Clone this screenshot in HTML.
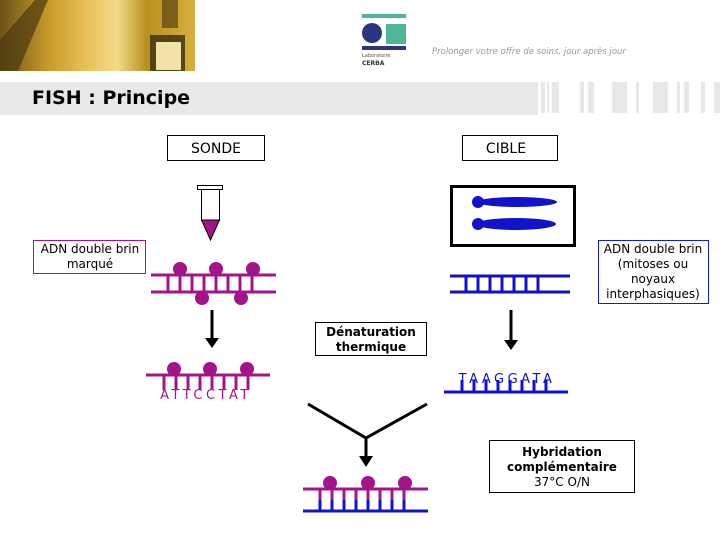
<!DOCTYPE html>
<html><head><meta charset="utf-8"><style>
body{margin:0;background:#fff;}
svg{display:block;}
text{font-family:"DejaVu Sans","Liberation Sans",sans-serif;}
</style></head><body>
<svg width="720" height="540" viewBox="0 0 720 540" xmlns="http://www.w3.org/2000/svg">
<defs>
<linearGradient id="g1" x1="0" y1="0" x2="1" y2="0">
<stop offset="0" stop-color="#6b5216"/><stop offset="0.25" stop-color="#c89a2a"/>
<stop offset="0.45" stop-color="#e8c25a"/><stop offset="0.6" stop-color="#f3dc8a"/>
<stop offset="0.75" stop-color="#b8901e"/><stop offset="1" stop-color="#d9b040"/>
</linearGradient>
</defs>
<rect x="0" y="0" width="195" height="71" fill="url(#g1)"/>
<polygon points="0,71 0,40 35,0 48,0 18,71" fill="#4a3a10" opacity="0.7"/>
<rect x="150" y="35" width="35" height="36" fill="#3a2e0c" opacity="0.8"/>
<rect x="156" y="42" width="25" height="28" fill="#f1e2a8"/>
<rect x="162" y="0" width="16" height="28" fill="#5a4512" opacity="0.7"/>
<rect x="362" y="14" width="44" height="4" fill="#4fb59a"/>
<circle cx="372" cy="33" r="10" fill="#2b3580"/>
<rect x="386" y="24" width="20" height="20" fill="#4fb59a"/>
<rect x="362" y="46" width="44" height="4" fill="#2b3580"/>
<text x="362" y="57" font-size="5" fill="#555">Laboratoire</text>
<text x="362" y="65" font-size="6" font-weight="bold" fill="#333">CERBA</text>
<text x="432" y="54" font-size="8.5" font-style="italic" fill="#999" font-family="Liberation Serif">Prolonger votre offre de soins, jour après jour</text>
<rect x="0" y="82" width="538" height="33" fill="#e8e8e8"/>
<g fill="#e8e8e8">
<rect x="541" y="82" width="4" height="31"/><rect x="547" y="82" width="2" height="31"/><rect x="552" y="82" width="7" height="31"/>
<rect x="580" y="82" width="4" height="31"/><rect x="588" y="82" width="6" height="31"/>
<rect x="612" y="82" width="15" height="31"/><rect x="636" y="82" width="3" height="31"/>
<rect x="653" y="82" width="15" height="31"/><rect x="677" y="82" width="3" height="31"/><rect x="684" y="82" width="5" height="31"/>
<rect x="701" y="82" width="4" height="31"/><rect x="714" y="82" width="6" height="31"/>
</g>
<text x="32" y="104" font-size="19" font-weight="bold" fill="#000">FISH : Principe</text>
<rect x="167.5" y="135.5" width="97" height="25" fill="#fff" stroke="#000"/>
<text x="216" y="153" font-size="14" text-anchor="middle" font-family="Liberation Sans">SONDE</text>
<rect x="462.5" y="135.5" width="95" height="25" fill="#fff" stroke="#000"/>
<text x="506" y="153" font-size="14" text-anchor="middle" font-family="Liberation Sans">CIBLE</text>
<rect x="197.5" y="185.5" width="25" height="4" fill="#fff" stroke="#000"/>
<rect x="201.5" y="189.5" width="18" height="31" fill="#fff" stroke="#000"/>
<polygon points="201.5,220 219.5,220 210.5,240" fill="#a3148a" stroke="#000"/>
<rect x="33.5" y="240.5" width="112" height="33" fill="#fff" stroke="#a3148a"/>
<text x="90" y="253" font-size="12" text-anchor="middle">ADN double brin</text>
<text x="90" y="268" font-size="12" text-anchor="middle">marqué</text>
<rect x="598.5" y="240.5" width="110" height="63" fill="#fff" stroke="#1a1acc"/>
<text x="653" y="253" font-size="12" text-anchor="middle">ADN double brin</text>
<text x="653" y="268" font-size="12" text-anchor="middle">(mitoses ou</text>
<text x="653" y="283" font-size="12" text-anchor="middle">noyaux</text>
<text x="653" y="298" font-size="12" text-anchor="middle">interphasiques)</text>
<g stroke="#a3148a" stroke-width="3" fill="none">
<line x1="151" y1="275" x2="276" y2="275"/><line x1="151" y1="292" x2="276" y2="292"/>
<path d="M168 275V292M180 275V292M192 275V292M204 275V292M216 275V292M228 275V292M240 275V292M252 275V292"/>
</g>
<g fill="#a3148a">
<circle cx="180" cy="269" r="7"/><circle cx="216" cy="269" r="7"/><circle cx="253" cy="269" r="7"/>
<circle cx="202" cy="298" r="7"/><circle cx="241" cy="298" r="7"/>
</g>
<g stroke="#000" stroke-width="3"><line x1="212" y1="310" x2="212" y2="340"/><line x1="511" y1="310" x2="511" y2="342"/></g>
<polygon points="205,338 219,338 212,348" fill="#000"/>
<polygon points="504,340 518,340 511,350" fill="#000"/>
<rect x="451.5" y="186.5" width="123" height="59" fill="#fff" stroke="#000" stroke-width="3"/>
<g fill="#1212cc">
<circle cx="478" cy="202" r="6"/><ellipse cx="517" cy="202" rx="40" ry="5"/>
<circle cx="478" cy="224" r="6"/><ellipse cx="516" cy="224" rx="40" ry="6"/>
</g>
<g stroke="#1212cc" stroke-width="3" fill="none">
<line x1="450" y1="276" x2="570" y2="276"/><line x1="450" y1="292" x2="570" y2="292"/>
<path d="M466 276V292M478 276V292M490 276V292M502 276V292M514 276V292M526 276V292M538 276V292"/>
</g>
<rect x="315.5" y="322.5" width="111" height="33" fill="#fff" stroke="#000"/>
<text x="371" y="336" font-size="12" font-weight="bold" text-anchor="middle">Dénaturation</text>
<text x="371" y="351" font-size="12" font-weight="bold" text-anchor="middle">thermique</text>
<g stroke="#a3148a" stroke-width="3" fill="none">
<line x1="146" y1="375" x2="270" y2="375"/>
<path d="M164 375V390M176 375V390M188 375V390M200 375V390M212 375V390M224 375V390M236 375V390M248 375V390"/>
</g>
<g fill="#a3148a"><circle cx="174" cy="369" r="7"/><circle cx="210" cy="369" r="7"/><circle cx="247" cy="369" r="7"/></g>
<text x="206" y="399" font-size="13" fill="#a3148a" text-anchor="middle" letter-spacing="3.5" font-family="Liberation Sans">ATTCCTAT</text>
<g stroke="#1212cc" stroke-width="3" fill="none">
<line x1="444" y1="392" x2="568" y2="392"/>
<path d="M462 380V392M474 380V392M486 380V392M498 380V392M510 380V392M522 380V392M534 380V392M546 380V392"/>
</g>
<text x="507" y="383" font-size="13" fill="#1212cc" text-anchor="middle" letter-spacing="3.5" font-family="Liberation Sans">TAAGGATA</text>
<polyline points="308,404 366,438 427,404" fill="none" stroke="#000" stroke-width="3"/>
<line x1="366" y1="438" x2="366" y2="458" stroke="#000" stroke-width="3"/>
<polygon points="359,456 373,456 366,467" fill="#000"/>
<g stroke-width="3" fill="none">
<line x1="303" y1="489" x2="428" y2="489" stroke="#a3148a"/>
<line x1="303" y1="511" x2="428" y2="511" stroke="#1212cc"/>
<path stroke="#a3148a" d="M320 489V500M332 489V500M344 489V500M356 489V500M368 489V500M380 489V500M392 489V500M404 489V500"/>
<path stroke="#1212cc" d="M320 500V511M332 500V511M344 500V511M356 500V511M368 500V511M380 500V511M392 500V511M404 500V511"/>
</g>
<g fill="#a3148a"><circle cx="330" cy="483" r="7"/><circle cx="368" cy="483" r="7"/><circle cx="405" cy="483" r="7"/></g>
<rect x="489.5" y="440.5" width="145" height="52" fill="#fff" stroke="#000"/>
<text x="562" y="456" font-size="12" font-weight="bold" text-anchor="middle">Hybridation</text>
<text x="562" y="471" font-size="12" font-weight="bold" text-anchor="middle">complémentaire</text>
<text x="562" y="486" font-size="12" text-anchor="middle">37°C O/N</text>
</svg>
</body></html>
